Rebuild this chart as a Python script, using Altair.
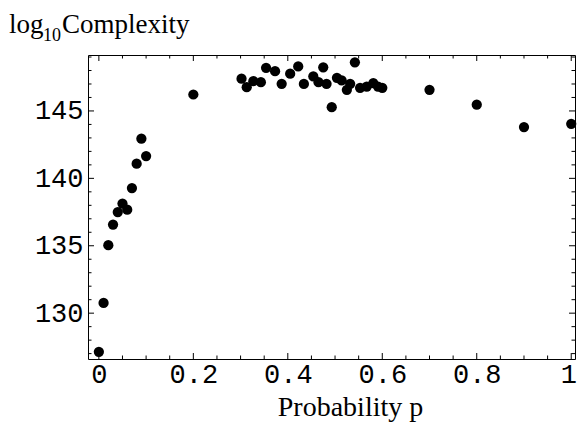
import altair as alt
import pandas as pd

# ---- data ----
p_vals = [0.0, 0.01, 0.02, 0.03, 0.04, 0.05, 0.06, 0.07, 0.08, 0.09, 0.10, 0.20,
          0.302, 0.313, 0.327, 0.343, 0.354, 0.373, 0.387, 0.405, 0.422, 0.434,
          0.454, 0.465, 0.475, 0.482, 0.493, 0.504, 0.514, 0.525, 0.532, 0.542,
          0.553, 0.567, 0.581, 0.591, 0.60,
          0.70, 0.80, 0.90, 1.00]
c_vals = [127.13, 130.76, 135.04, 136.57, 137.5, 138.13, 137.68, 139.28, 141.09, 142.94, 141.65, 146.22,
          147.39, 146.76, 147.21, 147.13, 148.2, 147.95, 147.01, 147.76, 148.3, 147.0,
          147.56, 147.13, 148.24, 147.01, 145.28, 147.46, 147.26, 146.57, 147.01, 148.61,
          146.72, 146.81, 147.06, 146.81, 146.72,
          146.57, 145.46, 143.8, 144.05]

x_major = [0, 0.2, 0.4, 0.6, 0.8, 1.0]
x_minor = [0.05, 0.1, 0.15, 0.25, 0.3, 0.35, 0.45, 0.5, 0.55, 0.65, 0.7, 0.75, 0.85, 0.9, 0.95]
y_major = [130, 135, 140, 145]
y_minor = [127, 128, 129, 131, 132, 133, 134, 136, 137, 138, 139, 141, 142, 143, 144, 146, 147, 148, 149]

title_parts = ["log", "10", "Complexity"]
x_title = "Probability p"

W, H = 487, 304
xdom = [-0.023, 1.008]
ydom = [126.6, 149.15]

xs = alt.Scale(domain=xdom, nice=False, zero=False)
ys = alt.Scale(domain=ydom, nice=False, zero=False)

mono = "Liberation Mono"
serif = "Liberation Serif"

x_axis = alt.Axis(values=x_major, labelExpr="format(datum.value, '~g')",
                  ticks=False, tickSize=0, domain=False, grid=False,
                  labelFont=mono, labelFontSize=27, labelColor="black",
                  labelBaseline="alphabetic", labelPadding=23,
                  labelOffset={"condition": {"test": "datum.value == 1", "value": -3}, "value": 0},
                  labelFlush=False, labelOverlap=False,
                  title=x_title, titleFont=serif, titleFontSize=28,
                  titleFontWeight="normal", titleColor="black",
                  titleX=262, titleY=56, titleBaseline="alphabetic",
                  titleAnchor="middle", titleAlign="center")
y_axis = alt.Axis(values=y_major, ticks=False, tickSize=0, domain=False, grid=False,
                  labelFont=mono, labelFontSize=27, labelColor="black",
                  labelPadding=5, labelFlush=False, labelOverlap=False,
                  title=None)

df = pd.DataFrame({"p": p_vals, "c": c_vals})

points = alt.Chart(df).mark_circle(size=105, color="black", opacity=1).encode(
    x=alt.X("p:Q", scale=xs, axis=x_axis),
    y=alt.Y("c:Q", scale=ys, axis=y_axis),
)

def xticks(vals, length, top):
    d = pd.DataFrame({"p": vals})
    y0 = 0 if top else H
    y1 = length if top else H - length
    return alt.Chart(d).mark_rule(color="black", strokeWidth=1).encode(
        x=alt.X("p:Q", scale=xs, axis=x_axis),
        y=alt.value(y0), y2=alt.value(y1))

def yticks(vals, length, right):
    d = pd.DataFrame({"c": vals})
    x0 = W if right else 0
    x1 = W - length if right else length
    return alt.Chart(d).mark_rule(color="black", strokeWidth=1).encode(
        y=alt.Y("c:Q", scale=ys, axis=y_axis),
        x=alt.value(x0), x2=alt.value(x1))

tick_layers = [
    xticks(x_major, 6, False), xticks(x_minor, 3.5, False),
    xticks(x_major, 6, True), xticks(x_minor, 3.5, True),
    yticks(y_major, 6, False), yticks(y_minor, 3.5, False),
    yticks(y_major, 6, True), yticks(y_minor, 3.5, True),
]

def txt(s, x, y, size):
    return alt.Chart(pd.DataFrame({"s": [s]})).mark_text(
        font=serif, fontSize=size, color="black", align="left", baseline="alphabetic"
    ).encode(text="s:N", x=alt.value(x), y=alt.value(y))

title_layers = [
    txt(title_parts[0], -79, -22, 27),
    txt(title_parts[1], -45, -14, 18),
    txt(title_parts[2], -26, -22, 27),
]

chart = alt.layer(points, *tick_layers, *title_layers).properties(
    width=W, height=H,
    autosize=alt.AutoSizeParams(type="none"),
    padding={"left": 88, "top": 55, "right": 3, "bottom": 65},
    background="white",
).configure_view(stroke="black", strokeWidth=1)

chart.save("out.html", embed_options={"renderer": "svg", "actions": False})
